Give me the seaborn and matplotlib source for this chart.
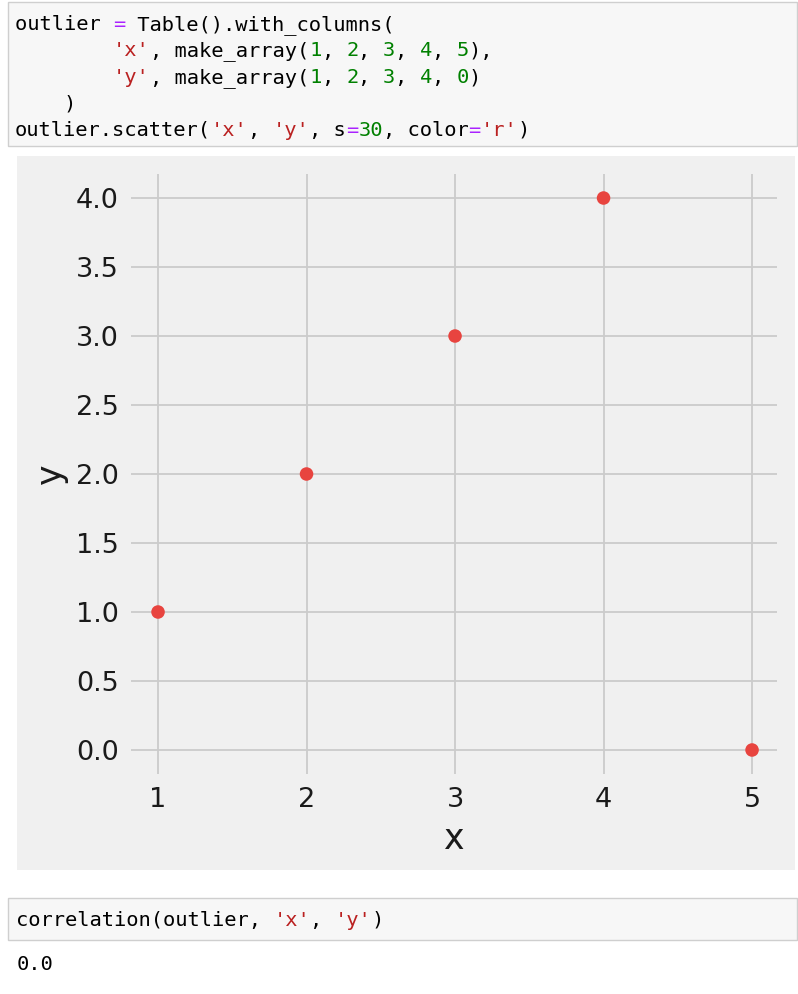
import matplotlib
matplotlib.use("Agg")
import matplotlib.pyplot as plt
from matplotlib.patches import Rectangle
import pandas as pd
import seaborn as sns

# datos del grafico
x_vals = [1, 2, 3, 4, 5]
y_vals = [1, 2, 3, 4, 0]
y_ticks = [0.0, 0.5, 1.0, 1.5, 2.0, 2.5, 3.0, 3.5, 4.0]
x_ticks = [1, 2, 3, 4, 5]

# celdas de codigo (texto, color)
BLACK = "#000000"
STR = "#ba2121"
NUM = "#008000"
OP = "#aa22ff"

code_lines = [
    [("outlier ", BLACK), ("=", OP), (" Table().with_columns(", BLACK)],
    [("        ", BLACK), ("'x'", STR), (", make_array(", BLACK), ("1", NUM), (", ", BLACK),
     ("2", NUM), (", ", BLACK), ("3", NUM), (", ", BLACK), ("4", NUM), (", ", BLACK),
     ("5", NUM), ("),", BLACK)],
    [("        ", BLACK), ("'y'", STR), (", make_array(", BLACK), ("1", NUM), (", ", BLACK),
     ("2", NUM), (", ", BLACK), ("3", NUM), (", ", BLACK), ("4", NUM), (", ", BLACK),
     ("0", NUM), (")", BLACK)],
    [("    )", BLACK)],
    [("outlier.scatter(", BLACK), ("'x'", STR), (", ", BLACK), ("'y'", STR), (", s", BLACK),
     ("=", OP), ("30", NUM), (", color", BLACK), ("=", OP), ("'r'", STR), (")", BLACK)],
]
code2 = [("correlation(outlier, ", BLACK), ("'x'", STR), (", ", BLACK), ("'y'", STR), (")", BLACK)]
output_text = "0.0"

W, H = 798, 994
fig = plt.figure(figsize=(W / 100, H / 100), dpi=100)
fig.patch.set_facecolor("white")

CHAR_W = 12.26
MONO = 14.7


def px(x, y):
    return x / W, 1 - y / H


def draw_code(segments, x0, baseline):
    col = 0
    for text, color in segments:
        fx, fy = px(x0 + col * CHAR_W, baseline)
        fig.text(fx, fy, text, family="DejaVu Sans Mono", fontsize=MONO,
                 color=color, va="baseline", ha="left")
        col += len(text)


def cell_box(x0, y0, x1, y1):
    fx0, fy1 = px(x0, y1)
    fx1, fy0 = px(x1, y0)
    fig.patches.append(Rectangle((fx0, fy1), fx1 - fx0, fy0 - fy1,
                                 transform=fig.transFigure, facecolor="#f7f7f7",
                                 edgecolor="#cfcfcf", linewidth=1.0, zorder=0))


# primera celda
cell_box(8, 2, 797, 146)
for i, line in enumerate(code_lines):
    draw_code(line, 15, 30 + i * 26.5)

# fondo gris de la figura del grafico
gx0, gy1 = px(17, 870)
gx1, gy0 = px(795, 156)
fig.patches.append(Rectangle((gx0, gy1), gx1 - gx0, gy0 - gy1,
                             transform=fig.transFigure, facecolor="#f0f0f0",
                             edgecolor="none", zorder=0))

# ejes
ax = fig.add_axes([131 / W, (H - 774) / H, 646 / W, 600 / H])
ax.set_zorder(2)
ax.set_facecolor("#f0f0f0")
df = pd.DataFrame({"x": x_vals, "y": y_vals})
sns.scatterplot(data=df, x="x", y="y", ax=ax, color="#e8443f", s=95,
                edgecolor="none", zorder=3)
ax.set_xlim(0.818, 5.168)
ax.set_ylim(-0.174, 4.174)
ax.set_xticks(x_ticks)
ax.set_xticklabels([str(v) for v in x_ticks])
ax.set_yticks(y_ticks)
ax.set_yticklabels([f"{v:.1f}" for v in y_ticks])
ax.grid(True, color="#cbcbcb", linewidth=1.3)
ax.set_axisbelow(True)
for s in ax.spines.values():
    s.set_visible(False)
ax.tick_params(axis="both", length=0, labelsize=19.5, colors="#1a1a1a")
ax.tick_params(axis="y", pad=8.6)
ax.tick_params(axis="x", pad=9.5)
ax.set_xlabel("x", fontsize=25, color="#1a1a1a")
ax.set_ylabel("y", fontsize=25, color="#1a1a1a")
ax.yaxis.set_label_coords(-0.0975, 0.5)
ax.xaxis.set_label_coords(0.5, -0.08)

# segunda celda y salida
cell_box(8, 898, 797, 940)
draw_code(code2, 16, 926)
draw_code([(output_text, BLACK)], 17, 970)

fig.savefig("out.png", dpi=100, facecolor="white")
